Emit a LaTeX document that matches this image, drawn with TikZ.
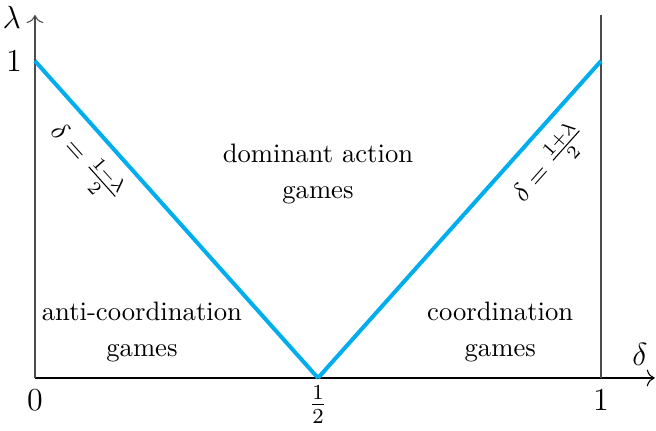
\documentclass[tikz,border=0pt]{standalone}
\usepackage{amsmath}
\usetikzlibrary{calc, arrows.meta}
\definecolor{lineblue}{RGB}{0,174,239}

\begin{document}
\begin{tikzpicture}[x=7.46cm, y=4.178cm, thin]
  \useasboundingbox (-0.0618,-0.1672) rectangle (1.0972,1.1924);
  \coordinate (O) at (0,0);
  \coordinate (X) at (1.095,0);
  \coordinate (Y) at (0,1.145);
  \coordinate (A) at (0,1);
  \coordinate (H) at (0.5,0);
  \coordinate (B) at (1,1);
  \coordinate (E) at (1,0);
  \coordinate (Etop) at (1,1.145);
  % axes
  \draw[-{To[length=3pt]}] (O) -- (X);
  \draw[black!70, -{To[length=3pt]}] (O) -- (Y);
  \draw[black!70] (E) -- (Etop);
  % boundaries
  \draw[lineblue, line width=1.5pt] (A) -- node[pos=0.26, sloped, below=1pt, text=black] {$\delta=\frac{1-\lambda}{2}$} (H);
  \draw[lineblue, line width=1.5pt] (H) -- node[pos=0.74, sloped, below=1pt, text=black] {$\delta=\frac{1+\lambda}{2}$} (B);
  % labels
  \node[font=\large] (lam) at (-0.041,1.136) {$\lambda$};
  \node[font=\large] (del) at (1.069,0.073) {$\delta$};
  \node[font=\large] (one) at (-0.037,1) {$1$};
  \node[font=\large] (zero) at (0,-0.069) {$0$};
  \node[font=\large] (half) at (0.5,-0.085) {$\frac{1}{2}$};
  \node[font=\large] (oneX) at (1,-0.069) {$1$};
  \node[align=center] (dom) at (0.5,0.645) {dominant action\\[1.5pt] games};
  \node[align=center] (anti) at (0.189,0.146) {anti-coordination\\[1.5pt] games};
  \node[align=center] (coord) at (0.822,0.146) {coordination\\[1.5pt] games};
\end{tikzpicture}
\end{document}
